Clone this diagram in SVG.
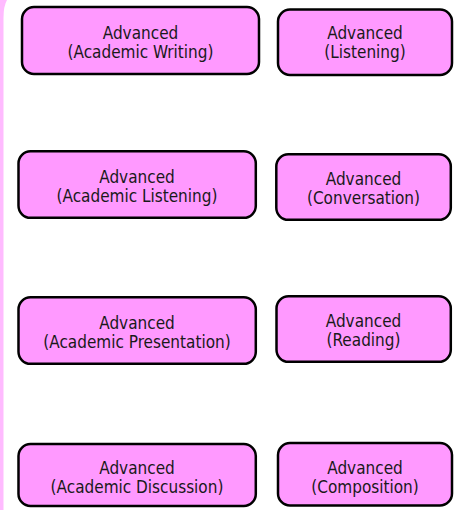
<svg xmlns="http://www.w3.org/2000/svg" width="462" height="510" viewBox="0 0 462 510">
<style>
.n rect{fill:#ff99ff;stroke:#000;stroke-width:2.5}
.n text{font-family:"DejaVu Sans Condensed","DejaVu Sans",sans-serif;font-size:17px;fill:#1a1a1a;text-anchor:middle}
</style>
<rect width="462" height="510" fill="#fff"/>
<path d="M0 0 H7 Q3.5 6 3.5 18 V510 H0 Z" fill="#ffbbff"/>
<g id="connectors"/>
<g id="n1" class="n"><rect x="22" y="7" width="237" height="67" rx="12"/><text x="140.5" y="38.5">Advanced</text><text x="140.5" y="57.5">(Academic Writing)</text></g>
<g id="n2" class="n"><rect x="278" y="9.5" width="174" height="65.5" rx="12"/><text x="365" y="39">Advanced</text><text x="365" y="58">(Listening)</text></g>
<g id="n3" class="n"><rect x="18.5" y="151.3" width="237.3" height="66.5" rx="12"/><text x="137" y="182.5">Advanced</text><text x="137" y="201.5">(Academic Listening)</text></g>
<g id="n4" class="n"><rect x="276.3" y="154.3" width="174.5" height="65.5" rx="12"/><text x="363.5" y="185">Advanced</text><text x="363.5" y="204">(Conversation)</text></g>
<g id="n5" class="n"><rect x="18.5" y="297.3" width="237.3" height="66.5" rx="12"/><text x="137" y="328.5">Advanced</text><text x="137" y="347.5">(Academic Presentation)</text></g>
<g id="n6" class="n"><rect x="276.5" y="296.3" width="174.3" height="65.5" rx="12"/><text x="363.5" y="327">Advanced</text><text x="363.5" y="346">(Reading)</text></g>
<g id="n7" class="n"><rect x="18.5" y="444" width="237.3" height="62" rx="12"/><text x="137" y="474">Advanced</text><text x="137" y="493">(Academic Discussion)</text></g>
<g id="n8" class="n"><rect x="278" y="443" width="174" height="62.5" rx="12"/><text x="365" y="474">Advanced</text><text x="365" y="493">(Composition)</text></g>
</svg>
